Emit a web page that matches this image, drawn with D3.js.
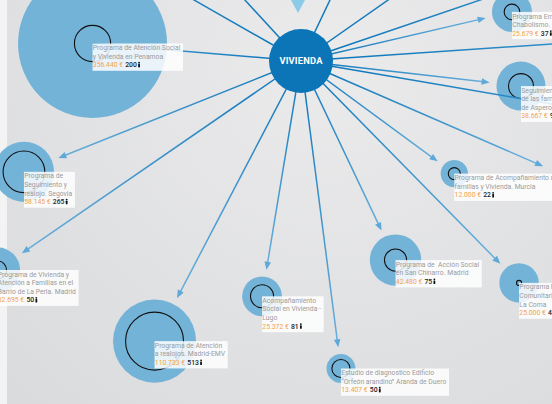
<!DOCTYPE html>
<html>
<head>
<meta charset="utf-8">
<script src="https://cdn.jsdelivr.net/npm/d3@7"></script>
<style>
  html, body { margin: 0; padding: 0; background: #e4e5e6; }
  svg { display: block; }
</style>
</head>
<body>
<svg id="chart" width="552" height="404"></svg>
<script>
// ---- Data: housing programmes linked to the VIVIENDA hub ----
const hubLabel = "VIVIENDA";

const programLines = [
  ["Programa de Atención Social", "y Vivienda en Penamoa"],
  ["Programa Erradicación del", "Chabolismo. Valencia"],
  ["Seguimiento y realojo", "de las familias", "de Asperones. Málaga"],
  ["Programa de Acompañamiento a", "familias y Vivienda. Murcia"],
  ["Programa IDEA", "Comunitaria en", "La Coma"],
  ["Programa de  Acción Social", "en San Chinarro. Madrid"],
  ["Estudio de diagnostico Edificio", "“Orfeón arandino” Aranda de Duero"],
  ["Acompañamiento", "Social en Vivienda -", "Lugo"],
  ["Programa de Atención", "a realojos. Madrid-EMV"],
  ["Programa de", "Seguimiento y", "realojo. Segovia"],
  ["Programa de Vivienda y", "Atención a Familias en el", "Barrio de La Perla. Madrid"]
];
const budgets = [356440, 25679, 38667, 12000, 25000, 42480, 13407, 25372, 110733, 58145, 32695];
const beneficiaries = [200, 37, 95, 22, 4, 75, 50, 81, 513, 265, 50];

// ---- Layout: polar placement around the hub (degrees clockwise from north, px) ----
const nodeAngle    = [274.8, 76.9, 96.5, 126.3, 135.5, 154.6, 172.6, 189.4, 207.6, 248.2, 235.45];
const nodeDistance = [209.2, 216.6, 221.4, 190.2, 311.1, 220.4, 310.1, 238.5, 316.1, 298.4, 368.5];
const nodeArrow    = [false, true, true, true, true, true, true, true, true, true, true];

// links that continue to programmes outside the visible area
const outerAngle  = [299.7, 317.4, 25.4, 55.0, 71.2, 86.1, 99.7, 113.5];
const outerLength = [420, 420, 420, 420, 420, 420, 420, 264];
const outerArrow  = [false, false, false, false, false, false, false, true];

// ---- Setup ----
const W = 552, H = 404;
const hub = { x: 301, y: 61, r: 32 };
const svg = d3.select("#chart");
const defs = svg.append("defs");

const es = d3.formatLocale({ decimal: ",", thousands: ".", grouping: [3], currency: ["", " €"] });
const fmtMoney = es.format("$,");

const rBudget = d3.scaleSqrt().domain([0, d3.max(budgets)]).range([0, 74.5]);
const rPeople = d3.scaleSqrt().domain([0, d3.max(beneficiaries)]).range([0, 29]);
const toRad = d3.scaleLinear().domain([0, 360]).range([0, 2 * Math.PI]);

function place(angle, dist) {
  const [dx, dy] = d3.pointRadial(toRad(angle), dist);
  return { x: hub.x + dx, y: hub.y + dy };
}

const nodes = programLines.map((lines, i) => {
  const p = place(nodeAngle[i], nodeDistance[i]);
  return {
    lines, budget: budgets[i], people: beneficiaries[i],
    x: p.x, y: p.y, angle: nodeAngle[i], dist: nodeDistance[i],
    R: rBudget(budgets[i]), r: rPeople(beneficiaries[i]), arrow: nodeArrow[i]
  };
});

// link ends: arrows stop short of the programme circle
const links = nodes.map(n => ({
  angle: n.angle,
  end: n.arrow ? n.dist - n.R - 7 : n.dist,
  arrow: n.arrow
})).concat(outerAngle.map((a, i) => ({ angle: a, end: outerLength[i], arrow: outerArrow[i] })));

// ---- Background ----
const bg = defs.append("radialGradient").attr("id", "bg")
  .attr("gradientUnits", "userSpaceOnUse")
  .attr("cx", 330).attr("cy", 60).attr("r", 460);
bg.append("stop").attr("offset", 0).attr("stop-color", "#ebebec");
bg.append("stop").attr("offset", 1).attr("stop-color", "#dadbdd");
svg.append("rect").attr("width", W).attr("height", H).attr("fill", "url(#bg)");
svg.append("rect").attr("x", 0).attr("y", 0).attr("width", 7).attr("height", H).attr("fill", "#f3f3f3");

// incoming marker from the parent node above the hub
svg.append("path")
  .attr("d", d3.line()([[hub.x - 10, 0], [hub.x + 4, 0], [hub.x - 3, 13]]) + "Z")
  .attr("fill", "#8ccbe8");

// ---- Programme circles ----
const gNodes = svg.append("g");
gNodes.selectAll("circle.outer").data(nodes).join("circle")
  .attr("class", "outer")
  .attr("cx", d => d.x).attr("cy", d => d.y).attr("r", d => d.R)
  .attr("fill", "#74b3d8");
gNodes.selectAll("circle.inner").data(nodes).join("circle")
  .attr("class", "inner")
  .attr("cx", d => d.x).attr("cy", d => d.y).attr("r", d => d.r)
  .attr("fill", "none").attr("stroke", "#111").attr("stroke-width", 1.1);

// ---- Links ----
const gLinks = svg.append("g");
links.forEach((l, i) => {
  const tip = place(l.angle, l.end);
  const ux = (tip.x - hub.x) / l.end, uy = (tip.y - hub.y) / l.end;
  const grad = defs.append("linearGradient").attr("id", "lg" + i)
    .attr("gradientUnits", "userSpaceOnUse")
    .attr("x1", hub.x).attr("y1", hub.y).attr("x2", tip.x).attr("y2", tip.y);
  grad.append("stop").attr("offset", 0).attr("stop-color", "#0a74b8");
  grad.append("stop").attr("offset", 1).attr("stop-color", l.arrow ? "#6aafdc" : "#4a9fd4");
  const stop = l.arrow ? 6 : 0;
  gLinks.append("line")
    .attr("x1", hub.x).attr("y1", hub.y)
    .attr("x2", tip.x - ux * stop).attr("y2", tip.y - uy * stop)
    .attr("stroke", `url(#lg${i})`).attr("stroke-width", 1.5);
  if (l.arrow) {
    const len = 8, hw = 3.3;
    const bx = tip.x - ux * len, by = tip.y - uy * len;
    gLinks.append("path")
      .attr("d", d3.line()([[tip.x, tip.y], [bx - uy * hw, by + ux * hw], [bx + uy * hw, by - ux * hw]]) + "Z")
      .attr("fill", "#5ea9d9");
  }
});

// ---- Hub ----
svg.append("circle").attr("cx", hub.x).attr("cy", hub.y).attr("r", hub.r).attr("fill", "#0b75b7");
svg.append("text").attr("x", hub.x).attr("y", hub.y + 3.4)
  .attr("text-anchor", "middle")
  .attr("font-family", "Roboto, 'DejaVu Sans', sans-serif")
  .attr("font-weight", 700).attr("font-size", 9.3).attr("letter-spacing", 0.2)
  .attr("fill", "#fff").text(hubLabel);

// ---- Labels ----
const lineH = 8.6, font = "Roboto, 'Open Sans', sans-serif", fs = 6.8;
const gLabels = svg.append("g");
nodes.forEach(n => {
  const g = gLabels.append("g");
  const box = g.append("rect").attr("x", n.x).attr("y", n.y)
    .attr("fill", "#ffffff").attr("fill-opacity", 0.84);
  const widths = [];
  n.lines.forEach((t, k) => {
    const tx = g.append("text").attr("x", n.x + 0.3).attr("y", n.y + 6.6 + k * lineH)
      .attr("font-family", font).attr("font-size", fs).attr("fill", "#9b9b9b")
      .attr("xml:space", "preserve").style("white-space", "pre").text(t);
    widths.push(tx.node().getComputedTextLength());
  });
  const yv = n.y + 6.6 + n.lines.length * lineH;
  const money = g.append("text").attr("x", n.x + 0.3).attr("y", yv)
    .attr("font-family", font).attr("font-size", fs).attr("fill", "#f2a34c")
    .text(fmtMoney(n.budget));
  const mw = money.node().getComputedTextLength();
  const cnt = g.append("text").attr("x", n.x + 0.3 + mw + 2.2).attr("y", yv)
    .attr("font-family", font).attr("font-size", fs).attr("font-weight", 500).attr("fill", "#222")
    .text(n.people);
  const cw = cnt.node().getComputedTextLength();
  // person glyph
  const ix = n.x + 0.3 + mw + 2.2 + cw + 2.2;
  g.append("circle").attr("cx", ix).attr("cy", yv - 4.6).attr("r", 0.9).attr("fill", "#111");
  g.append("rect").attr("x", ix - 0.9).attr("y", yv - 3.5).attr("width", 1.8).attr("height", 3.6)
    .attr("rx", 0.6).attr("fill", "#111");
  widths.push(ix + 1 - n.x);
  box.attr("width", d3.max(widths) + 3).attr("height", (n.lines.length + 1) * lineH + 1.5);
});
</script>
</body>
</html>
